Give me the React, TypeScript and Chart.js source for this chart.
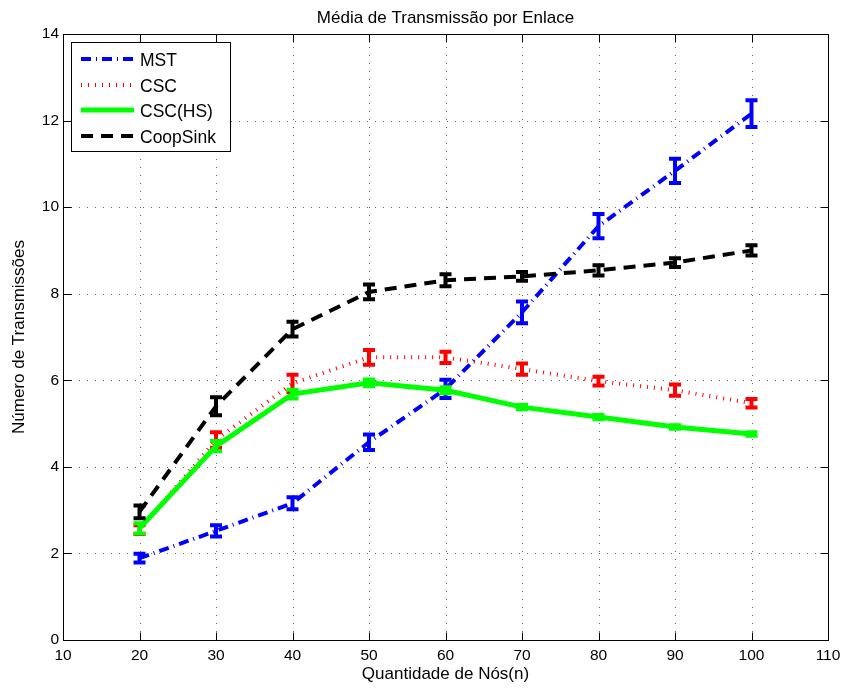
import React, { useEffect, useRef } from "react";
import { Chart, registerables } from "chart.js";

Chart.register(...registerables);

const nodes = [20, 30, 40, 50, 60, 70, 80, 90, 100];

const mst = [1.89, 2.52, 3.16, 4.57, 5.8, 7.57, 9.56, 10.84, 12.16];
const mstErr = [0.1, 0.13, 0.14, 0.18, 0.21, 0.25, 0.28, 0.28, 0.31];

const csc = [2.55, 4.62, 5.93, 6.53, 6.53, 6.26, 5.98, 5.77, 5.47];
const cscErr = [0.1, 0.18, 0.2, 0.17, 0.13, 0.13, 0.1, 0.13, 0.1];

const cscHs = [2.58, 4.48, 5.68, 5.94, 5.77, 5.38, 5.15, 4.92, 4.76];
const cscHsErr = [0.12, 0.12, 0.1, 0.08, 0.07, 0.05, 0.05, 0.04, 0.04];

const coopSink = [2.96, 5.4, 7.18, 8.04, 8.31, 8.4, 8.54, 8.72, 9.0];
const coopSinkErr = [0.15, 0.21, 0.17, 0.17, 0.14, 0.1, 0.12, 0.1, 0.12];

const seriesNames = ["MST", "CSC", "CSC(HS)", "CoopSink"];
const xTickValues = [10, 20, 30, 40, 50, 60, 70, 80, 90, 100, 110];
const yTickValues = [0, 2, 4, 6, 8, 10, 12, 14];

const chartTitle = "Média de Transmissão por Enlace";
const xTitle = "Quantidade de Nós(n)";
const yTitle = "Número de Transmissões";

const FONT = "'Liberation Sans', Arial, Helvetica, sans-serif";

const errors = [mstErr, cscErr, cscHsErr, coopSinkErr];

const matlabPlugin = {
  id: "matlabStyle",
  beforeDatasetsDraw(chart: any) {
    const { ctx, chartArea } = chart;
    const xs = chart.scales.x;
    const ys = chart.scales.y;
    ctx.save();
    ctx.strokeStyle = "rgba(0,0,0,0.6)";
    ctx.lineWidth = 1;
    ctx.setLineDash([1, 7]);
    for (const v of xTickValues) {
      if (v === xs.min || v === xs.max) continue;
      const px = Math.round(xs.getPixelForValue(v)) + 0.5;
      ctx.beginPath();
      ctx.moveTo(px, chartArea.bottom);
      ctx.lineTo(px, chartArea.top);
      ctx.stroke();
    }
    for (const v of yTickValues) {
      if (v === ys.min || v === ys.max) continue;
      const py = Math.round(ys.getPixelForValue(v)) + 0.5;
      ctx.beginPath();
      ctx.moveTo(chartArea.left, py);
      ctx.lineTo(chartArea.right, py);
      ctx.stroke();
    }
    ctx.restore();
  },
  afterDatasetDraw(chart: any, args: any) {
    const { ctx } = chart;
    const xs = chart.scales.x;
    const ys = chart.scales.y;
    const ds = chart.data.datasets[args.index];
    const err = errors[args.index];
    const data = ds.data as { x: number; y: number }[];
    ctx.save();
    ctx.strokeStyle = ds.borderColor;
    ctx.lineWidth = 4;
    ctx.setLineDash([]);
    ctx.lineCap = "butt";
    data.forEach((p, i) => {
      const px = xs.getPixelForValue(p.x);
      const yTop = ys.getPixelForValue(p.y + err[i]);
      const yBot = ys.getPixelForValue(p.y - err[i]);
      ctx.beginPath();
      ctx.moveTo(px, yTop - 2);
      ctx.lineTo(px, yBot + 2);
      ctx.moveTo(px - 6, yTop);
      ctx.lineTo(px + 6, yTop);
      ctx.moveTo(px - 6, yBot);
      ctx.lineTo(px + 6, yBot);
      ctx.stroke();
    });
    ctx.restore();
  },
  afterDraw(chart: any) {
    const { ctx, chartArea } = chart;
    const xs = chart.scales.x;
    const ys = chart.scales.y;
    const L = Math.round(chartArea.left) + 0.5;
    const R = Math.round(chartArea.right) + 0.5;
    const T = Math.round(chartArea.top) + 0.5;
    const B = Math.round(chartArea.bottom) + 0.5;
    ctx.save();
    ctx.setLineDash([]);
    ctx.strokeStyle = "#000";
    ctx.lineWidth = 1;
    ctx.strokeRect(L, T, R - L, B - T);
    const tl = 8;
    ctx.beginPath();
    for (const v of xTickValues) {
      const px = Math.round(xs.getPixelForValue(v)) + 0.5;
      ctx.moveTo(px, B);
      ctx.lineTo(px, B - tl);
      ctx.moveTo(px, T);
      ctx.lineTo(px, T + tl);
    }
    for (const v of yTickValues) {
      const py = Math.round(ys.getPixelForValue(v)) + 0.5;
      ctx.moveTo(L, py);
      ctx.lineTo(L + tl, py);
      ctx.moveTo(R, py);
      ctx.lineTo(R - tl, py);
    }
    ctx.stroke();

    // title
    ctx.fillStyle = "#000";
    ctx.font = `17px ${FONT}`;
    ctx.textAlign = "center";
    ctx.textBaseline = "middle";
    ctx.fillText(chartTitle, (chartArea.left + chartArea.right) / 2, 18);

    // legend
    const lx = 71.5, ly = 42.5, lw = 159, lh = 109;
    ctx.fillStyle = "#fff";
    ctx.fillRect(lx, ly, lw, lh);
    ctx.strokeStyle = "#000";
    ctx.lineWidth = 1;
    ctx.strokeRect(lx, ly, lw, lh);
    const rowY = [61, 87, 112, 138];
    chart.data.datasets.forEach((ds: any, i: number) => {
      const y = rowY[i];
      ctx.save();
      ctx.strokeStyle = ds.borderColor;
      ctx.lineWidth = ds.borderWidth;
      ctx.setLineDash(ds.borderDash || []);
      ctx.beginPath();
      ctx.moveTo(81, y - 2);
      ctx.lineTo(134, y - 2);
      ctx.stroke();
      ctx.restore();
      ctx.fillStyle = "#000";
      ctx.font = `17.5px ${FONT}`;
      ctx.textAlign = "left";
      ctx.textBaseline = "middle";
      ctx.fillText(seriesNames[i], 140, y);
    });
    ctx.restore();
  },
};

export default function App() {
  const canvasRef = useRef<HTMLCanvasElement | null>(null);

  useEffect(() => {
    document.body.style.margin = "0";
    const canvas = canvasRef.current;
    if (!canvas) return;
    const toPts = (arr: number[]) => nodes.map((n, i) => ({ x: n, y: arr[i] }));
    const chart = new Chart(canvas, {
      type: "line",
      data: {
        datasets: [
          {
            label: seriesNames[0],
            data: toPts(mst),
            borderColor: "#0000ff",
            borderWidth: 4,
            borderDash: [10, 5, 1, 5],
            pointRadius: 0,
            fill: false,
            tension: 0,
            order: 3,
          },
          {
            label: seriesNames[1],
            data: toPts(csc),
            borderColor: "#ff0000",
            borderWidth: 4,
            borderDash: [1, 6],
            pointRadius: 0,
            fill: false,
            tension: 0,
            order: 2,
          },
          {
            label: seriesNames[2],
            data: toPts(cscHs),
            borderColor: "#00ff00",
            borderWidth: 5,
            borderDash: [],
            pointRadius: 0,
            fill: false,
            tension: 0,
            order: 1,
          },
          {
            label: seriesNames[3],
            data: toPts(coopSink),
            borderColor: "#000000",
            borderWidth: 4,
            borderDash: [12, 8],
            pointRadius: 0,
            fill: false,
            tension: 0,
            order: 0,
          },
        ],
      },
      options: {
        responsive: false,
        animation: false,
        devicePixelRatio: 1,
        layout: { padding: { top: 34, right: 20, left: 0, bottom: 0 } },
        plugins: {
          legend: { display: false },
          title: { display: false },
          tooltip: { enabled: false },
        },
        scales: {
          x: {
            type: "linear",
            min: 10,
            max: 110,
            afterBuildTicks: (s: any) => {
              s.ticks = xTickValues.map((v) => ({ value: v }));
            },
            ticks: {
              color: "#000",
              font: { size: 15.5, family: FONT },
              padding: 6,
              maxRotation: 0,
              autoSkip: false,
            },
            grid: { display: false, drawTicks: false },
            border: { display: false },
            title: {
              display: true,
              text: xTitle,
              color: "#000",
              font: { size: 17, family: FONT },
              padding: { top: 0, bottom: 3 },
            },
            afterFit: (s: any) => {
              s.height = 48;
            },
          },
          y: {
            type: "linear",
            min: 0,
            max: 14,
            afterBuildTicks: (s: any) => {
              s.ticks = yTickValues.map((v) => ({ value: v }));
            },
            ticks: {
              color: "#000",
              font: { size: 15.5, family: FONT },
              padding: 4,
              autoSkip: false,
            },
            grid: { display: false, drawTicks: false },
            border: { display: false },
            title: {
              display: true,
              text: yTitle,
              color: "#000",
              font: { size: 17, family: FONT },
              padding: { top: 9, bottom: 0 },
            },
            afterFit: (s: any) => {
              s.width = 63;
            },
          },
        },
      },
      plugins: [matlabPlugin],
    } as any);
    return () => chart.destroy();
  }, []);

  return (
    <canvas
      ref={canvasRef}
      width={848}
      height={688}
      style={{ display: "block", width: 848, height: 688 }}
    />
  );
}
